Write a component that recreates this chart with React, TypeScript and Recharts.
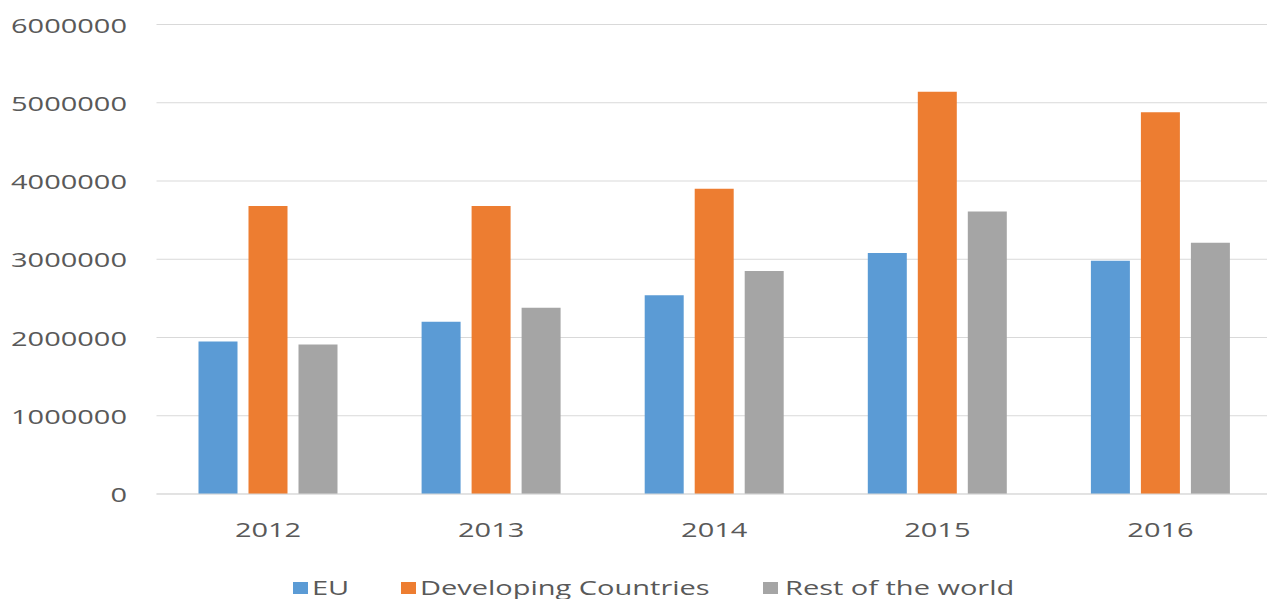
import React from 'react';
import { BarChart, Bar, XAxis, YAxis, CartesianGrid, Legend } from 'recharts';

// Yearly totals per region
const years = ['2012', '2013', '2014', '2015', '2016'];
const euValues = [1950000, 2200000, 2540000, 3080000, 2980000];
const developingValues = [3680000, 3680000, 3900000, 5140000, 4880000];
const restValues = [1910000, 2380000, 2850000, 3610000, 3210000];

const yTicks = [0, 1000000, 2000000, 3000000, 4000000, 5000000, 6000000];

const seriesKeys = ['eu', 'developing', 'rest'];
const seriesNames = ['EU', 'Developing Countries', 'Rest of the world'];
const seriesColors = ['#5B9BD5', '#ED7D31', '#A5A5A5'];

const data = years.map((year, i) => ({
  year,
  eu: euValues[i],
  developing: developingValues[i],
  rest: restValues[i],
}));

const TEXT_COLOR = '#595959';
const GRID_COLOR = '#d9d9d9';
const FONT = '"Open Sans", sans-serif';
const FONT_SIZE = 20;
// text is drawn horizontally widened
const STRETCH = 1.45;

const CHART_W = 1272;
const CHART_H = 599;
const LEGEND_H = 45;

function YTick(props: any) {
  const { x, y, payload } = props;
  return (
    <text
      transform={`translate(${x - 29.5},${y + 8}) scale(${STRETCH},1)`}
      textAnchor="end"
      fill={TEXT_COLOR}
      fontSize={FONT_SIZE}
      fontFamily={FONT}
    >
      {String(payload.value)}
    </text>
  );
}

function XTick(props: any) {
  const { x, y, payload } = props;
  return (
    <text
      transform={`translate(${x},${y + 43}) scale(${STRETCH},1)`}
      textAnchor="middle"
      fill={TEXT_COLOR}
      fontSize={FONT_SIZE}
      fontFamily={FONT}
    >
      {payload.value}
    </text>
  );
}

// legend marker / label x positions, in series order
const legendSquareX = [293, 401, 763];
const legendTextX = [312, 420, 785];

function LegendContent(props: any) {
  const payload = props.payload || [];
  return (
    <svg width={CHART_W} height={LEGEND_H} style={{ display: 'block' }}>
      {payload.map((entry: any) => {
        const i = seriesNames.indexOf(entry.value);
        return (
          <g key={entry.value}>
            <rect x={legendSquareX[i]} y={28} width={15} height={12} fill={entry.color} />
            <text
              transform={`translate(${legendTextX[i]},41) scale(${STRETCH},1)`}
              fill={TEXT_COLOR}
              fontSize={FONT_SIZE}
              fontFamily={FONT}
            >
              {entry.value}
            </text>
          </g>
        );
      })}
    </svg>
  );
}

export default function App() {
  return (
    <div
      style={{
        position: 'absolute',
        left: 0,
        top: 0,
        width: 1267,
        height: CHART_H,
        overflow: 'hidden',
        background: '#ffffff',
      }}
    >
      <BarChart
        width={CHART_W}
        height={CHART_H}
        data={data}
        margin={{ top: 24.5, right: 0, bottom: 0, left: 0 }}
        barCategoryGap={42}
        barGap={11}
      >
        <CartesianGrid vertical={false} stroke={GRID_COLOR} strokeWidth={1} />
        <XAxis
          dataKey="year"
          height={60}
          axisLine={{ stroke: GRID_COLOR }}
          tickLine={false}
          tickSize={0}
          tickMargin={0}
          interval={0}
          tick={<XTick />}
        />
        <YAxis
          width={156.5}
          domain={[0, 6000000]}
          ticks={yTicks}
          interval={0}
          axisLine={false}
          tickLine={false}
          tickSize={0}
          tickMargin={0}
          tick={<YTick />}
        />
        <Legend
          verticalAlign="bottom"
          align="left"
          content={<LegendContent />}
          wrapperStyle={{ left: 0, bottom: 0, width: CHART_W, height: LEGEND_H }}
        />
        {seriesKeys.map((key, i) => (
          <Bar
            key={key}
            dataKey={key}
            name={seriesNames[i]}
            fill={seriesColors[i]}
            isAnimationActive={false}
          />
        ))}
      </BarChart>
    </div>
  );
}
